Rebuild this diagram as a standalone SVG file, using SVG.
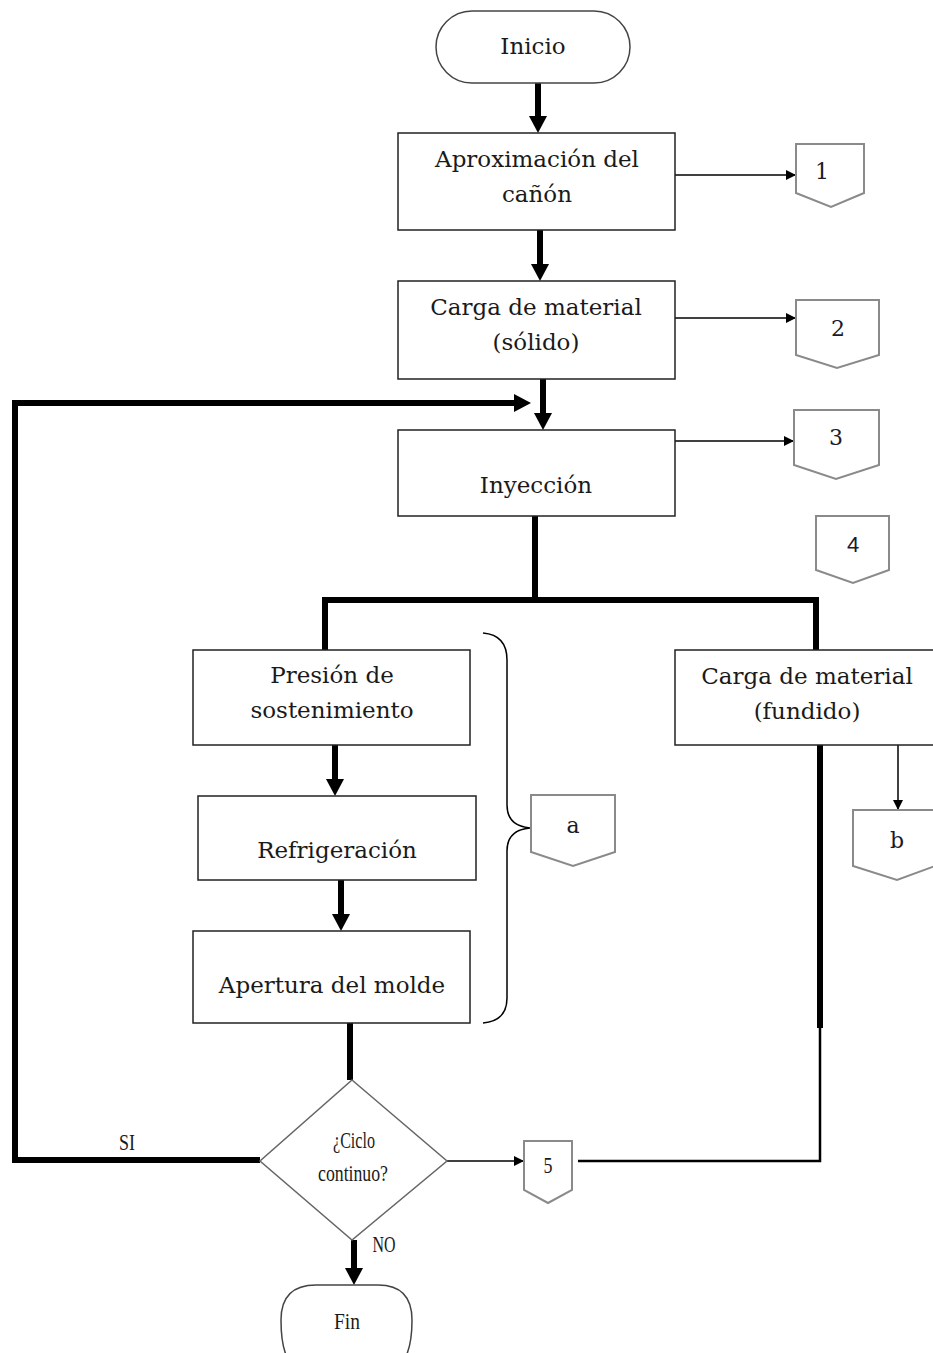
<svg xmlns="http://www.w3.org/2000/svg" width="933" height="1353" viewBox="0 0 933 1353">
  <style>
    .box { fill: #fff; stroke: #222; stroke-width: 1.5; }
    .term { fill: #fff; stroke: #444; stroke-width: 1.5; }
    .off { fill: #fff; stroke: #8a8a8a; stroke-width: 2; }
    .lbl { font-family: "DejaVu Serif", "Liberation Serif", serif; font-size: 23px; fill: #1a1a1a; text-anchor: middle; }
    .num { font-family: "DejaVu Serif", "Liberation Serif", serif; font-size: 22px; fill: #1a1a2a; text-anchor: middle; }
    .small { font-family: "Liberation Serif", serif; font-size: 24px; fill: #1a1a1a; text-anchor: middle; }
    .thick { stroke: #000; stroke-width: 6; fill: none; }
    .thin { stroke: #000; stroke-width: 1.5; fill: none; }
    .mid { stroke: #000; stroke-width: 2.5; fill: none; }
  </style>
  <defs>
    <!-- wide head placed after the end of a thick shaft -->
    <marker id="bigHead" markerWidth="18" markerHeight="20" refX="0" refY="10" orient="auto" markerUnits="userSpaceOnUse">
      <path d="M0,1 L17,10 L0,19 Z" fill="#000"/>
    </marker>
    <marker id="smallHead" markerWidth="10" markerHeight="10" refX="9" refY="5" orient="auto" markerUnits="userSpaceOnUse">
      <path d="M0,0 L10,5 L0,10 Z" fill="#000"/>
    </marker>
  </defs>

  <!-- connectors -->
  <g id="connectors">
    <line class="thick" x1="538" y1="83" x2="538" y2="116" marker-end="url(#bigHead)"/>
    <line class="thick" x1="540" y1="230" x2="540" y2="264" marker-end="url(#bigHead)"/>
    <line class="thick" x1="543" y1="379" x2="543" y2="413" marker-end="url(#bigHead)"/>
    <line class="thin" x1="675" y1="175" x2="795" y2="175" marker-end="url(#smallHead)"/>
    <line class="thin" x1="675" y1="318" x2="795" y2="318" marker-end="url(#smallHead)"/>
    <line class="thin" x1="675" y1="441" x2="793" y2="441" marker-end="url(#smallHead)"/>
    <!-- return loop from decision -->
    <polyline class="thick" points="260,1160 15,1160 15,403 514,403" marker-end="url(#bigHead)"/>
    <!-- split after injection -->
    <line class="thick" x1="535" y1="516" x2="535" y2="600"/>
    <polyline class="thick" points="325,650 325,600 816,600 816,650"/>
    <line class="thick" x1="335" y1="745" x2="335" y2="779" marker-end="url(#bigHead)"/>
    <line class="thick" x1="341" y1="880" x2="341" y2="914" marker-end="url(#bigHead)"/>
    <line class="thick" x1="350" y1="1023" x2="350" y2="1080"/>
    <line class="thin" x1="898" y1="745" x2="898" y2="809" marker-end="url(#smallHead)"/>
    <line class="thick" x1="820" y1="745" x2="820" y2="1028"/>
    <polyline class="mid" points="820,1028 820,1161 578,1161"/>
    <line class="thin" x1="447" y1="1161" x2="523" y2="1161" marker-end="url(#smallHead)"/>
    <line class="thick" x1="354" y1="1240" x2="354" y2="1268" marker-end="url(#bigHead)"/>
    <!-- brace grouping the mould steps -->
    <path class="thin" stroke="#555" d="M483,633 Q507,635 507,660 L507,805 Q507,826 530,828 Q507,830 507,851 L507,998 Q507,1021 483,1023"/>
    <text class="small" x="127" y="1150" font-size="22" textLength="16" lengthAdjust="spacingAndGlyphs">SI</text>
    <text class="small" x="384" y="1252" font-size="22" textLength="23" lengthAdjust="spacingAndGlyphs">NO</text>
  </g>

  <g id="inicio">
    <rect class="term" x="436" y="11" width="194" height="72" rx="36"/>
    <text class="lbl" x="533" y="54">Inicio</text>
  </g>

  <g id="aproximacion">
    <rect class="box" x="398" y="133" width="277" height="97"/>
    <text class="lbl" x="537" y="167">Aproximación del</text>
    <text class="lbl" x="537" y="202">cañón</text>
  </g>

  <g id="carga-solido">
    <rect class="box" x="398" y="281" width="277" height="98"/>
    <text class="lbl" x="536" y="315">Carga de material</text>
    <text class="lbl" x="536" y="350">(sólido)</text>
  </g>

  <g id="inyeccion">
    <rect class="box" x="398" y="430" width="277" height="86"/>
    <text class="lbl" x="536" y="493">Inyección</text>
  </g>

  <g id="presion">
    <rect class="box" x="193" y="650" width="277" height="95"/>
    <text class="lbl" x="332" y="683">Presión de</text>
    <text class="lbl" x="332" y="718">sostenimiento</text>
  </g>

  <g id="refrigeracion">
    <rect class="box" x="198" y="796" width="278" height="84"/>
    <text class="lbl" x="337" y="858">Refrigeración</text>
  </g>

  <g id="apertura">
    <rect class="box" x="193" y="931" width="277" height="92"/>
    <text class="lbl" x="332" y="993">Apertura del molde</text>
  </g>

  <g id="carga-fundido">
    <rect class="box" x="675" y="650" width="270" height="95"/>
    <text class="lbl" x="807" y="684">Carga de material</text>
    <text class="lbl" x="807" y="719">(fundido)</text>
  </g>

  <g id="decision">
    <polygon points="352,1080 447,1161 352,1240 260,1161" fill="#fff" stroke="#666" stroke-width="1.5"/>
    <text class="small" x="354" y="1148" textLength="42" lengthAdjust="spacingAndGlyphs">¿Ciclo</text>
    <text class="small" x="353" y="1181" textLength="70" lengthAdjust="spacingAndGlyphs">continuo?</text>
  </g>

  <g id="fin">
    <path class="term" d="M316,1285 L378,1285 Q412,1285 412,1320 Q412,1353 400,1365 L292,1365 Q281,1353 281,1320 Q281,1285 316,1285 Z"/>
    <text class="small" x="347" y="1329" textLength="26" lengthAdjust="spacingAndGlyphs">Fin</text>
  </g>

  <g id="ref-1">
    <polygon class="off" points="796,144 864,144 864,193 831,207 796,193"/>
    <text class="num" x="822" y="179">1</text>
  </g>
  <g id="ref-2">
    <polygon class="off" points="796,300 879,300 879,355 837,368 796,355"/>
    <text class="num" x="838" y="336">2</text>
  </g>
  <g id="ref-3">
    <polygon class="off" points="794,410 879,410 879,465 836,479 794,465"/>
    <text class="num" x="836" y="445">3</text>
  </g>
  <g id="ref-4">
    <polygon class="off" points="816,516 889,516 889,570 853,583 816,570"/>
    <text x="853" y="552" font-family="Liberation Sans, sans-serif" font-size="22" fill="#1a1a2a" text-anchor="middle">4</text>
  </g>
  <g id="ref-a">
    <polygon class="off" points="531,795 615,795 615,852 573,866 531,852"/>
    <text class="num" x="573" y="833">a</text>
  </g>
  <g id="ref-b">
    <polygon class="off" points="853,810 935,810 935,866 897,880 853,866"/>
    <text class="num" x="897" y="848">b</text>
  </g>
  <g id="ref-5">
    <polygon class="off" points="524,1141 572,1141 572,1190 548,1203 524,1190"/>
    <text class="small" x="548" y="1173" font-size="19" textLength="9" lengthAdjust="spacingAndGlyphs">5</text>
  </g>
</svg>
